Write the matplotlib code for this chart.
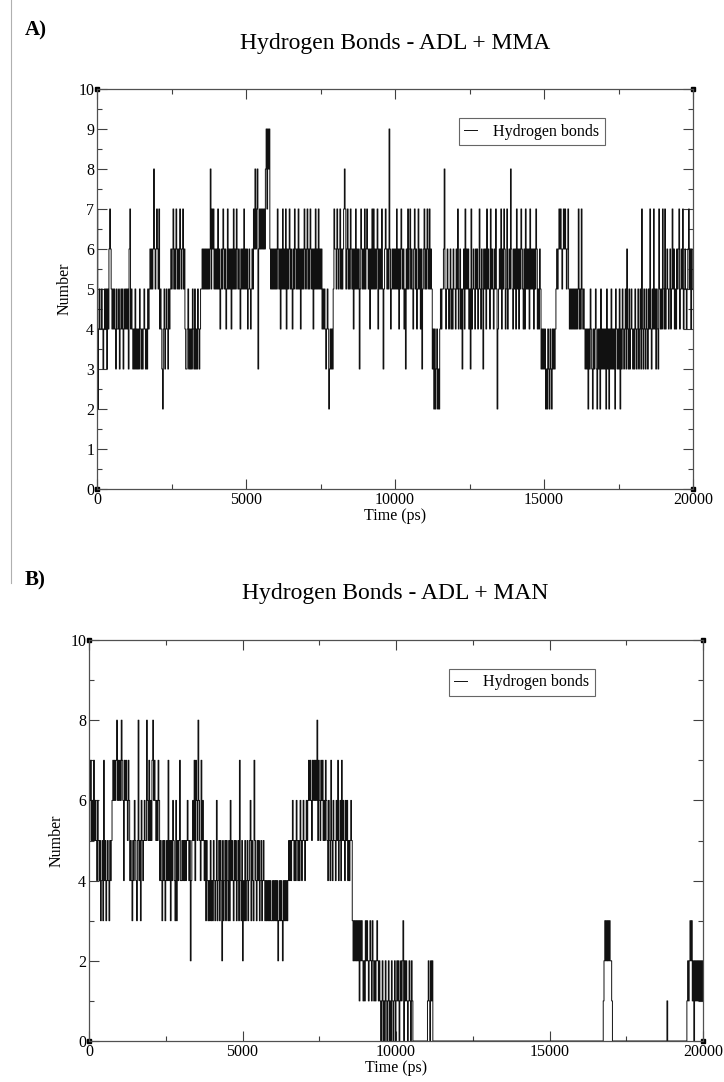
import matplotlib
matplotlib.use("Agg")
import matplotlib.pyplot as plt
from matplotlib.lines import Line2D
from matplotlib.ticker import MultipleLocator
import numpy as np

plt.rcParams['font.family'] = ['Liberation Serif', 'DejaVu Serif']

# time axis, one frame every 25 ps
time_ps = np.arange(0, 20001, 25)

# number of hydrogen bonds, ADL + MMA (one string = 1000 ps, 40 frames)
hb_mma_txt = [
    "7245445434" "5453546765" "4545435445" "3454534545",
    "4536745434" "3534343543" "4345434354" "5656568656",
    "7657454324" "5345435456" "5675657656" "5765675643",
    "3453434354" "3534354345" "5656565656" "5685767565",
    "6575645657" "6564575656" "4657565765" "6546565756",
    "5645654565" "7686783676" "7676768979" "8965656565",
    "6576564657" "5657465675" "6546576565" "7564656576",
    "5675657656" "4657565756" "5645454345" "4234343576",
    "6576567565" "6787567565" "7656465756" "5635765657",
    "5676564657" "5756567465" "6575356765" "6596456565",
    "6575646576" "5645365756" "7565467564" "5756463567",
    "5657657565" "3424234232" "4545568545" "6545645465",
    "5465745645" "3564756564" "5374565465" "6457546536",
    "5647565475" "6546575245" "6574657645" "7456586546",
    "5647564657" "6546475656" "4756564657" "6454653434",
    "3423243243" "2434345656" "7676567676" "5675454545",
    "4545457454" "7545434342" "4354324345" "3243425343",
    "4342534243" "5343425434" "3524354345" "3643534543",
    "4354345345" "3743543543" "5474354745" "3543754547",
    "5474565456" "4575645465" "6745657456" "5456756465",
    "5",
]

# number of hydrogen bonds, ADL + MAN
hb_man_txt = [
    "5675657565" "4654534537" "4534543545" "6767678676",
    "7687647676" "5764543546" "5435845365" "4565586575",
    "6578676565" "7645435453" "4547453546" "5436354574",
    "4545454565" "4524565747" "6586547565" "4535434353",
    "4354346345" "3542534535" "4353645435" "4534537435",
    "2435345345" "6354375435" "4534534543" "4343434334",
    "3434342343" "4324343434" "5454565454" "6545465456",
    "5456567676" "5767676857" "6576756576" "5465475465",
    "5465745647" "5654656454" "5653232323" "2313232121",
    "3232123213" "2121232121" "0120102101" "2010210120",
    "1212012123" "0212101210" "2100000000" "0000000000",
    "0121021200" "0000000000" "0000000000" "0000000000",
    "0" * 40,
    "0" * 40,
    "0" * 40,
    "0" * 40,
    "0000000000" "0000000000" "0000000000" "1232323232",
    "2100000000" "0000000000" "0000000000" "0000000000",
    "0000000000" "0000000000" "0000000000" "0001000000",
    "0000000000" "0000000001" "2123231202" "1212121212",
    "1",
]

hb_mma = [int(c) for c in "".join(hb_mma_txt)]
hb_man = [int(c) for c in "".join(hb_man_txt)]
assert len(hb_mma) == len(time_ps), len(hb_mma)
assert len(hb_man) == len(time_ps), len(hb_man)

fig = plt.figure(figsize=(7.24, 10.82), dpi=100)

# left page edge line of the scanned figure
fig.add_artist(Line2D([11 / 724, 11 / 724], [1.0, 1 - 583 / 1082],
                      color='#b0b0b0', lw=0.8))


def style_axes(ax, ymajor, yminor):
    ax.set_xlim(0, 20000)
    ax.set_ylim(0, 10)
    ax.xaxis.set_major_locator(MultipleLocator(5000))
    ax.xaxis.set_minor_locator(MultipleLocator(2500))
    ax.yaxis.set_major_locator(MultipleLocator(ymajor))
    ax.yaxis.set_minor_locator(MultipleLocator(yminor))
    ax.tick_params(which='both', direction='in', top=True, right=True,
                   labelsize=11.5, color='#404040', width=0.8, pad=2)
    ax.tick_params(which='major', length=7)
    ax.tick_params(which='minor', length=3.6)
    for sp in ax.spines.values():
        sp.set_color('#505050')
        sp.set_linewidth(0.9)
    ax.set_xlabel("Time (ps)", fontsize=11.5, labelpad=0)
    ax.set_ylabel("Number", fontsize=11.5, labelpad=4)
    # little corner squares like xmgrace draws
    ax.plot([0, 1, 0, 1], [0, 0, 1, 1], 's', color='black', ms=3.5,
            transform=ax.transAxes, clip_on=False)


# ---- panel A ----
ax1 = fig.add_axes([97 / 724, 1 - 489 / 1082, 596 / 724, 400 / 1082])
ax1.plot(time_ps, hb_mma, color='#111111', lw=0.7, drawstyle='steps-post',
         label='Hydrogen bonds')
style_axes(ax1, 1, 0.5)
leg1 = ax1.legend(loc='upper left', bbox_to_anchor=(0.607, 0.927),
                  fontsize=11.5, frameon=True, fancybox=False,
                  handlelength=0.8, handletextpad=1.0, borderpad=0.35,
                  borderaxespad=0)
leg1.get_frame().set_edgecolor('#404040')
leg1.get_frame().set_linewidth(0.8)

fig.text(25 / 724, 1 - 30 / 1082, "A)", fontsize=15, fontweight='bold',
         va='center', ha='left')
fig.text(395 / 724, 1 - 43 / 1082, "Hydrogen Bonds - ADL + MMA",
         fontsize=17, va='center', ha='center')

# ---- panel B ----
ax2 = fig.add_axes([89 / 724, 1 - 1041 / 1082, 614 / 724, 401 / 1082])
ax2.plot(time_ps, hb_man, color='#111111', lw=0.7, drawstyle='steps-post',
         label='Hydrogen bonds')
style_axes(ax2, 2, 1)
leg2 = ax2.legend(loc='upper left', bbox_to_anchor=(0.586, 0.928),
                  fontsize=11.5, frameon=True, fancybox=False,
                  handlelength=0.8, handletextpad=1.0, borderpad=0.35,
                  borderaxespad=0)
leg2.get_frame().set_edgecolor('#404040')
leg2.get_frame().set_linewidth(0.8)

fig.text(25 / 724, 1 - 580 / 1082, "B)", fontsize=15, fontweight='bold',
         va='center', ha='left')
fig.text(395 / 724, 1 - 593 / 1082, "Hydrogen Bonds - ADL + MAN",
         fontsize=17, va='center', ha='center')

fig.savefig("out.png", dpi=100)
